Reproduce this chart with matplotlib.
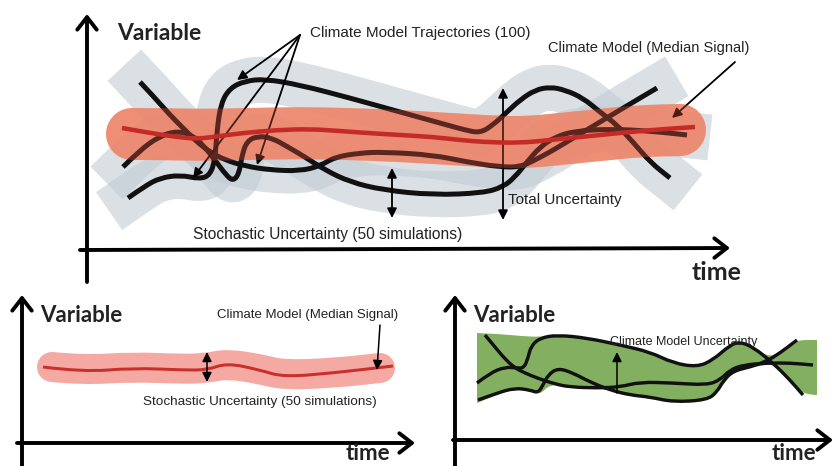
import matplotlib
matplotlib.use('Agg')
import matplotlib.pyplot as plt
import numpy as np
from matplotlib.path import Path
from matplotlib.patches import PathPatch

# --- data (pixel coordinates, y pointing down) ---
# top panel: three climate model trajectories
ta_x = [140, 155, 170, 185, 197, 210, 225, 245, 270, 300, 320, 335, 360, 383, 433, 467, 500, 520, 535, 550, 565, 585, 610, 635, 657]
ta_y = [82, 98, 115, 130, 142, 152, 160, 166, 170, 171, 166, 157, 153, 152, 155, 162, 167, 167, 160, 152, 143, 131, 116, 101, 88]
tb_x = [128, 145, 160, 180, 200, 210, 215, 217, 221, 230, 245, 265, 300, 350, 400, 440, 465, 480, 493, 507, 520, 535, 550, 565, 583, 600, 617, 633, 650, 670]
tb_y = [198, 186, 178, 175, 179, 175, 160, 130, 103, 88, 81, 79, 85, 98, 112, 123, 130, 133, 125, 112, 100, 90, 87, 90, 98, 112, 125, 142, 162, 178]
tc_x = [123, 140, 160, 177, 192, 203, 215, 226, 233, 239, 242, 247, 258, 272, 288, 305, 325, 350, 383, 433, 483, 503, 515, 527, 540, 555, 575, 610, 650, 687]
tc_y = [167, 150, 136, 131, 135, 145, 160, 175, 181, 174, 155, 141, 136, 138, 147, 157, 170, 182, 190, 195, 193, 187, 177, 162, 147, 137, 131, 129, 131, 135]

# top panel: stochastic band and median signal
band_x = [132, 160, 200, 250, 300, 350, 400, 450, 500, 530, 560, 600, 640, 680]
band_y = [134, 134, 135, 134, 133, 134, 136, 139, 142, 142, 139, 135, 131, 130]
med_x = [122, 150, 177, 197, 220, 243, 277, 310, 340, 367, 400, 433, 460, 483, 520, 550, 600, 650, 695]
med_y = [128, 133, 137, 139, 136, 133, 130, 129, 131, 133, 135, 137, 140, 142, 143, 140, 135, 130, 127]

# bottom-left panel: median signal with stochastic band
bl_x = [43, 83, 133, 183, 207, 227, 260, 283, 333, 393]
bl_y = [367, 372, 368, 370, 370, 363, 370, 377, 373, 366]
blband_x = [52, 83, 133, 183, 207, 227, 260, 283, 333, 380]
blband_y = [367, 370, 367, 369, 368, 364, 369, 375, 373, 368]

# bottom-right panel: trajectories and their envelope
g1_x = [477, 490, 505, 517, 524, 528, 531, 540, 557, 587, 620, 650, 673, 697, 713, 730, 740, 753, 773, 790, 803]
g1_y = [383, 373, 367, 368, 368, 358, 346, 338, 335, 338, 345, 352, 363, 367, 360, 345, 342, 347, 363, 380, 395]
g2_x = [485, 495, 505, 515, 525, 537, 555, 570, 597, 620, 640, 673, 707, 720, 730, 743, 767, 790, 813]
g2_y = [335, 347, 359, 368, 373, 378, 384, 387, 388, 387, 382, 383, 385, 380, 370, 365, 363, 363, 365]
g3_x = [478, 497, 515, 530, 538, 543, 548, 558, 573, 590, 610, 630, 650, 673, 707, 717, 723, 733, 750, 767, 780, 797]
g3_y = [400, 393, 388, 390, 393, 385, 375, 368, 373, 382, 390, 395, 397, 402, 400, 392, 381, 371, 367, 361, 353, 340]
env_top_x = [477, 500, 520, 540, 557, 587, 620, 650, 673, 697, 713, 730, 740, 753, 770, 785, 797, 817]
env_top_y = [333, 334, 336, 337, 335, 338, 345, 352, 363, 367, 360, 345, 342, 347, 358, 348, 340, 340]
env_bot_x = [817, 803, 790, 773, 760, 733, 723, 717, 707, 673, 650, 630, 610, 590, 570, 550, 540, 530, 515, 497, 477]
env_bot_y = [395, 395, 380, 363, 366, 372, 385, 393, 400, 403, 397, 395, 390, 388, 387, 384, 395, 390, 388, 395, 403]

NARROW = ['Liberation Sans Narrow', 'Liberation Sans', 'DejaVu Sans']
BOLD = ['Lato', 'DejaVu Sans']
INK = '#222222'

fig = plt.figure(figsize=(8.36, 4.66), dpi=100)
ax = fig.add_axes([0, 0, 1, 1])
ax.set_xlim(0, 836)
ax.set_ylim(466, 0)
ax.axis('off')

PT = 0.72  # points per pixel


def curve(xs, ys):
    # smooth path through the read points (quadratic bezier between midpoints)
    pts = list(zip(xs, ys))
    verts, codes = [pts[0]], [Path.MOVETO]
    for i in range(1, len(pts) - 1):
        mid = ((pts[i][0] + pts[i + 1][0]) / 2, (pts[i][1] + pts[i + 1][1]) / 2)
        verts += [pts[i], mid]
        codes += [Path.CURVE3, Path.CURVE3]
    verts.append(pts[-1])
    codes.append(Path.LINETO)
    return Path(verts, codes)


def stroke(xs, ys, color, width_px, alpha=1.0, cap='butt', z=3):
    ax.add_patch(PathPatch(curve(xs, ys), fill=False, edgecolor=color,
                           lw=width_px * PT, alpha=alpha, capstyle=cap,
                           joinstyle='round', zorder=z))


def axis_arrow(x0, y0, x1, y1):
    ax.annotate('', xy=(x1, y1), xytext=(x0, y0),
                arrowprops=dict(arrowstyle='->,head_length=0.45,head_width=0.35',
                                lw=2.8, color='black', mutation_scale=20,
                                shrinkA=0, shrinkB=0))


def arrow(x0, y0, x1, y1, style='-|>', lw=1.3):
    ax.annotate('', xy=(x1, y1), xytext=(x0, y0),
                arrowprops=dict(arrowstyle=style, lw=lw, color='black',
                                mutation_scale=14, shrinkA=0, shrinkB=0))


# ===== top panel =====
top_traj = [(ta_x, ta_y), (tb_x, tb_y), (tc_x, tc_y)]
for xs, ys in top_traj:
    stroke(xs, ys, '#c3ccd5', 46, alpha=0.6, cap='projecting', z=1)
stroke(band_x, band_y, '#f5a88a', 52, alpha=0.9, cap='round', z=2)
for xs, ys in top_traj:
    stroke(xs, ys, '#111111', 5, z=3)
stroke(band_x, band_y, '#e0523c', 52, alpha=0.35, cap='round', z=4)
stroke(med_x, med_y, '#c42a26', 4.5, z=5)

axis_arrow(87, 282, 87, 14)
axis_arrow(80, 250, 730, 248)
ax.text(117, 33, 'Variable', fontsize=16.5, fontweight='bold', family=BOLD,
        color=INK, ha='left', va='center')
ax.text(692, 272, 'time', fontsize=18, fontweight='bold', family=BOLD,
        color=INK, ha='left', va='center')

ax.text(310, 33, 'Climate Model Trajectories (100)', fontsize=11, family=NARROW,
        color=INK, ha='left', va='center', zorder=6)
for tx, ty in [(237, 80), (193, 178), (257, 165)]:
    arrow(300, 35, tx, ty)
ax.text(548, 48, 'Climate Model (Median Signal)', fontsize=10.5, family=NARROW,
        color=INK, ha='left', va='center', zorder=6)
arrow(735, 62, 672, 118)
arrow(503, 220, 503, 88, style='<|-|>')
ax.text(508, 200, 'Total Uncertainty', fontsize=11, family=NARROW,
        color=INK, ha='left', va='center', zorder=6)
arrow(392, 218, 392, 168, style='<|-|>')
ax.text(193, 235, 'Stochastic Uncertainty (50 simulations)', fontsize=11.2,
        family=NARROW, color=INK, ha='left', va='center', zorder=6)

# ===== bottom-left panel =====
stroke(blband_x, blband_y, '#f4a9a3', 30, cap='round', z=2)
stroke(bl_x, bl_y, '#c8302c', 3, z=3)
axis_arrow(22, 470, 22, 295)
axis_arrow(17, 443, 415, 443)
ax.text(40, 315, 'Variable', fontsize=16, fontweight='bold', family=BOLD,
        color=INK, ha='left', va='center')
ax.text(346, 453, 'time', fontsize=16, fontweight='bold', family=BOLD,
        color=INK, ha='left', va='center')
ax.text(217, 315, 'Climate Model (Median Signal)', fontsize=9.5, family=NARROW,
        color=INK, ha='left', va='center')
arrow(380, 325, 377, 370, lw=1.1)
arrow(207, 382, 207, 352, style='<|-|>', lw=1.1)
ax.text(143, 402, 'Stochastic Uncertainty (50 simulations)', fontsize=9.7,
        family=NARROW, color=INK, ha='left', va='center')

# ===== bottom-right panel =====
top_poly = curve(env_top_x, env_top_y).to_polygons(closed_only=False)[0]
bot_poly = curve(env_bot_x, env_bot_y).to_polygons(closed_only=False)[0]
env = np.vstack([top_poly, bot_poly])
ax.fill(env[:, 0], env[:, 1], color='#83b060', lw=0, zorder=1)
for xs, ys in [(g1_x, g1_y), (g2_x, g2_y), (g3_x, g3_y)]:
    stroke(xs, ys, '#111111', 3.4, z=3)
axis_arrow(455, 467, 455, 295)
axis_arrow(453, 440, 833, 440)
ax.text(473, 315, 'Variable', fontsize=16, fontweight='bold', family=BOLD,
        color=INK, ha='left', va='center')
ax.text(772, 453, 'time', fontsize=16, fontweight='bold', family=BOLD,
        color=INK, ha='left', va='center')
ax.text(610, 342, 'Climate Model Uncertainty', fontsize=9, family=NARROW,
        color=INK, ha='left', va='center')
arrow(617, 393, 617, 352, lw=1.1)

fig.savefig('out.png', dpi=100)
